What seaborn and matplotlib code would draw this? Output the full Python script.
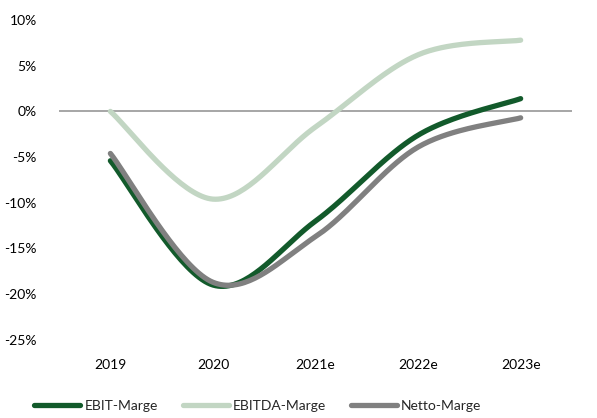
import numpy as np
import pandas as pd
import matplotlib
matplotlib.use("Agg")
import matplotlib.pyplot as plt
import seaborn as sns
from matplotlib.lines import Line2D

categories = ["2019", "2020", "2021e", "2022e", "2023e"]
ebit = [-5.4, -19.0, -12.0, -2.6, 1.4]
ebitda = [0.0, -9.6, -1.7, 6.2, 7.8]
netto = [-4.6, -18.7, -13.7, -3.9, -0.7]
series_names = ["EBIT-Marge", "EBITDA-Marge", "Netto-Marge"]
colors = ["#125a2b", "#c2d6c3", "#808080"]

sns.set_theme(style="white")
plt.rcParams["font.family"] = ["Lato", "DejaVu Sans"]


def smooth(xs, ys, n=40):
    # Excel-like smoothing: Catmull-Rom cubic Bezier through the points
    xs = np.asarray(xs, float)
    ys = np.asarray(ys, float)
    px = np.concatenate([[xs[0]], xs, [xs[-1]]])
    py = np.concatenate([[ys[0]], ys, [ys[-1]]])
    ox, oy = [], []
    for i in range(1, len(px) - 2):
        p0 = np.array([px[i], py[i]])
        p3 = np.array([px[i + 1], py[i + 1]])
        c1 = p0 + (np.array([px[i + 1], py[i + 1]]) - np.array([px[i - 1], py[i - 1]])) / 6
        c2 = p3 - (np.array([px[i + 2], py[i + 2]]) - np.array([px[i], py[i]])) / 6
        t = np.linspace(0, 1, n)[:, None]
        pts = ((1 - t) ** 3) * p0 + 3 * ((1 - t) ** 2) * t * c1 + 3 * (1 - t) * t ** 2 * c2 + t ** 3 * p3
        if i > 1:
            pts = pts[1:]
        ox.extend(pts[:, 0])
        oy.extend(pts[:, 1])
    return np.array(ox), np.array(oy)


fig = plt.figure(figsize=(5.97, 4.18), dpi=100)
ax = fig.add_axes([0.099, 0.187, 0.859, 0.765])

ax.axhline(0, color="#a6a6a6", lw=1.4, zorder=1)

xpos = np.arange(len(categories))
for name, vals, col in zip(series_names, [ebit, ebitda, netto], colors):
    sx, sy = smooth(xpos, vals)
    df = pd.DataFrame({"x": sx, "y": sy})
    sns.lineplot(data=df, x="x", y="y", ax=ax, color=col, lw=3.8, sort=False,
                 solid_capstyle="round", zorder=3)

ax.set_xlim(-0.5, len(categories) - 0.5)
ax.set_ylim(-25, 10)
ax.set_yticks(np.arange(-25, 11, 5))
ax.set_yticklabels([f"{v}%" for v in range(-25, 11, 5)])
ax.set_xticks(xpos)
ax.set_xticklabels(categories)
ax.set_xlabel("")
ax.set_ylabel("")
for s in ax.spines.values():
    s.set_visible(False)
ax.tick_params(axis="both", length=0, labelsize=10, colors="#000000")
ax.tick_params(axis="y", pad=16)
ax.tick_params(axis="x", pad=14)

handles = [Line2D([0], [0], color=c, lw=3.8, solid_capstyle="round") for c in colors]
fig.legend(handles, series_names, loc="center", bbox_to_anchor=(0.432, 0.028),
           ncol=3, frameon=False, fontsize=10, handlelength=3.3, handletextpad=0.3,
           columnspacing=1.8)

fig.savefig("out.png", dpi=100)
